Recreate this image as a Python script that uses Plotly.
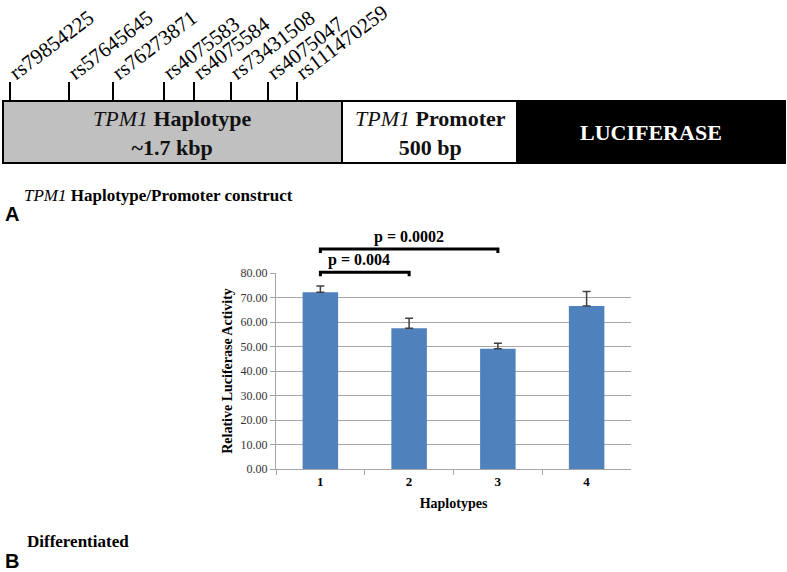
import plotly.graph_objects as go

# bar chart data (panel B)
haplotypes = ["1", "2", "3", "4"]
activity = [72.1, 57.4, 49.1, 66.5]
error_up = [2.6, 4.1, 2.2, 6.0]
y_ticks = [0, 10, 20, 30, 40, 50, 60, 70, 80]

# significance brackets: (first bar, second bar, label, bracket level)
comparisons = [(0, 1, "p = 0.004", 80.3), (0, 2, "p = 0.0002", 89.8)]

# SNPs on the haplotype construct (panel A)
snp_ids = ["rs79854225", "rs57645645", "rs76273871", "rs4075583",
           "rs4075584", "rs73431508", "rs4075047", "rs111470259"]
snp_x_px = [10, 69, 113, 164, 194, 231, 268, 297]

W, H = 787, 572
SERIF = "Liberation Serif"
BLUE = "#4F81BD"
GRID = "#A6A6A6"

# plot area of the bar chart, in pixels
px_left, px_right, px_top, px_bottom = 276, 631, 273, 469
y_max = 80


def bar_center_px(i):
    return px_left + (i + 0.5) * (px_right - px_left) / len(haplotypes)


def value_px(v):
    return px_bottom - v * (px_bottom - px_top) / y_max


fig = go.Figure()

fig.add_trace(go.Bar(
    x=haplotypes, y=activity,
    marker=dict(color=BLUE, line=dict(width=0)),
    error_y=dict(type="data", symmetric=False, array=error_up,
                 arrayminus=[0] * len(error_up),
                 color="#404040", thickness=1.5, width=4),
    showlegend=False,
))
# dummy trace so the pixel overlay axes exist
fig.add_trace(go.Scatter(x=[], y=[], xaxis="x2", yaxis="y2", showlegend=False))

shapes = []
annotations = []


def px_shape(**kw):
    shapes.append(dict(xref="x2", yref="y2", **kw))


def px_text(x, y, text, **kw):
    annotations.append(dict(xref="x2", yref="y2", x=x, y=y, text=text,
                            showarrow=False, **kw))


# construct boxes
px_shape(type="rect", x0=3, x1=342, y0=101, y1=163, fillcolor="#C0C0C0",
         line=dict(color="black", width=2))
px_shape(type="rect", x0=342, x1=517, y0=101, y1=163, fillcolor="white",
         line=dict(color="black", width=2))
px_shape(type="rect", x0=517, x1=785, y0=101, y1=163, fillcolor="black",
         line=dict(color="black", width=2))

for sid, sx in zip(snp_ids, snp_x_px):
    px_shape(type="line", x0=sx, x1=sx, y0=82, y1=101,
             line=dict(color="black", width=2))
    px_text(sx - 8, 87, sid, textangle=-37, xanchor="left", yanchor="bottom",
            font=dict(family=SERIF, size=21, color="black"))

px_text(172, 133, "<i>TPM1</i> <b>Haplotype</b><br><b>~1.7 kbp</b>",
        font=dict(family=SERIF, size=22, color="#111111"))
px_text(430, 133, "<i>TPM1</i> <b>Promoter</b><br><b>500 bp</b>",
        font=dict(family=SERIF, size=22, color="#111111"))
px_text(651, 132, "<b>LUCIFERASE</b>",
        font=dict(family=SERIF, size=22, color="white"))

px_text(22, 195, "<i>TPM1</i> <b>Haplotype/Promoter construct</b>",
        xanchor="left", font=dict(family=SERIF, size=17, color="black"))
px_text(3, 214, "<b>A</b>", xanchor="left",
        font=dict(family="Liberation Sans", size=20, color="black"))
px_text(25, 541, "<b>Differentiated</b>", xanchor="left",
        font=dict(family=SERIF, size=17, color="black"))
px_text(3, 561, "<b>B</b>", xanchor="left",
        font=dict(family="Liberation Sans", size=20, color="black"))

# significance brackets
for a, b, label, level in comparisons:
    xa, xb = bar_center_px(a), bar_center_px(b)
    yl = value_px(level)
    px_shape(type="path",
             path=f"M {xa} {yl + 4} L {xa} {yl} L {xb} {yl} L {xb} {yl + 4}",
             line=dict(color="black", width=3))
    px_text((xa + xb) / 2 if b > 1 else xa + 6, yl - 1, f"<b>{label}</b>",
            xanchor="center" if b > 1 else "left", yanchor="bottom",
            font=dict(family=SERIF, size=16, color="black"))

fig.update_layout(
    width=W, height=H,
    margin=dict(l=0, r=0, t=0, b=0),
    paper_bgcolor="white", plot_bgcolor="rgba(0,0,0,0)",
    bargap=0.6,
    shapes=shapes,
    annotations=annotations,
    xaxis=dict(
        domain=[px_left / W, px_right / W], anchor="y",
        tickvals=haplotypes, ticktext=[f"<b>{h}</b>" for h in haplotypes],
        tickfont=dict(family=SERIF, size=13, color="black"),
        showline=True, linecolor=GRID, linewidth=1,
        ticks="outside", tickson="boundaries", ticklen=5, tickcolor=GRID,
        title=dict(text="<b>Haplotypes</b>", standoff=10,
                   font=dict(family=SERIF, size=14, color="black")),
        showgrid=False, automargin=False,
    ),
    yaxis=dict(
        domain=[1 - px_bottom / H, 1 - px_top / H], anchor="x",
        range=[0, y_max], tickvals=y_ticks, tickformat=".2f",
        tickfont=dict(family=SERIF, size=12, color="#333333"),
        showline=True, linecolor=GRID, linewidth=1,
        ticks="outside", ticklen=5, tickcolor=GRID,
        showgrid=True, gridcolor=GRID, gridwidth=1, zeroline=False,
        title=dict(text="<b>Relative Luciferase Activity</b>", standoff=4,
                   font=dict(family=SERIF, size=14, color="black")),
        automargin=False,
    ),
    xaxis2=dict(domain=[0, 1], range=[0, W], anchor="y2", visible=False),
    yaxis2=dict(domain=[0, 1], range=[H, 0], anchor="x2", visible=False),
)

# drop the default 8px page margin so the figure fills the window exactly
fig.write_html("out.html", config={"displayModeBar": False},
               post_script="document.body.style.margin='0';")
